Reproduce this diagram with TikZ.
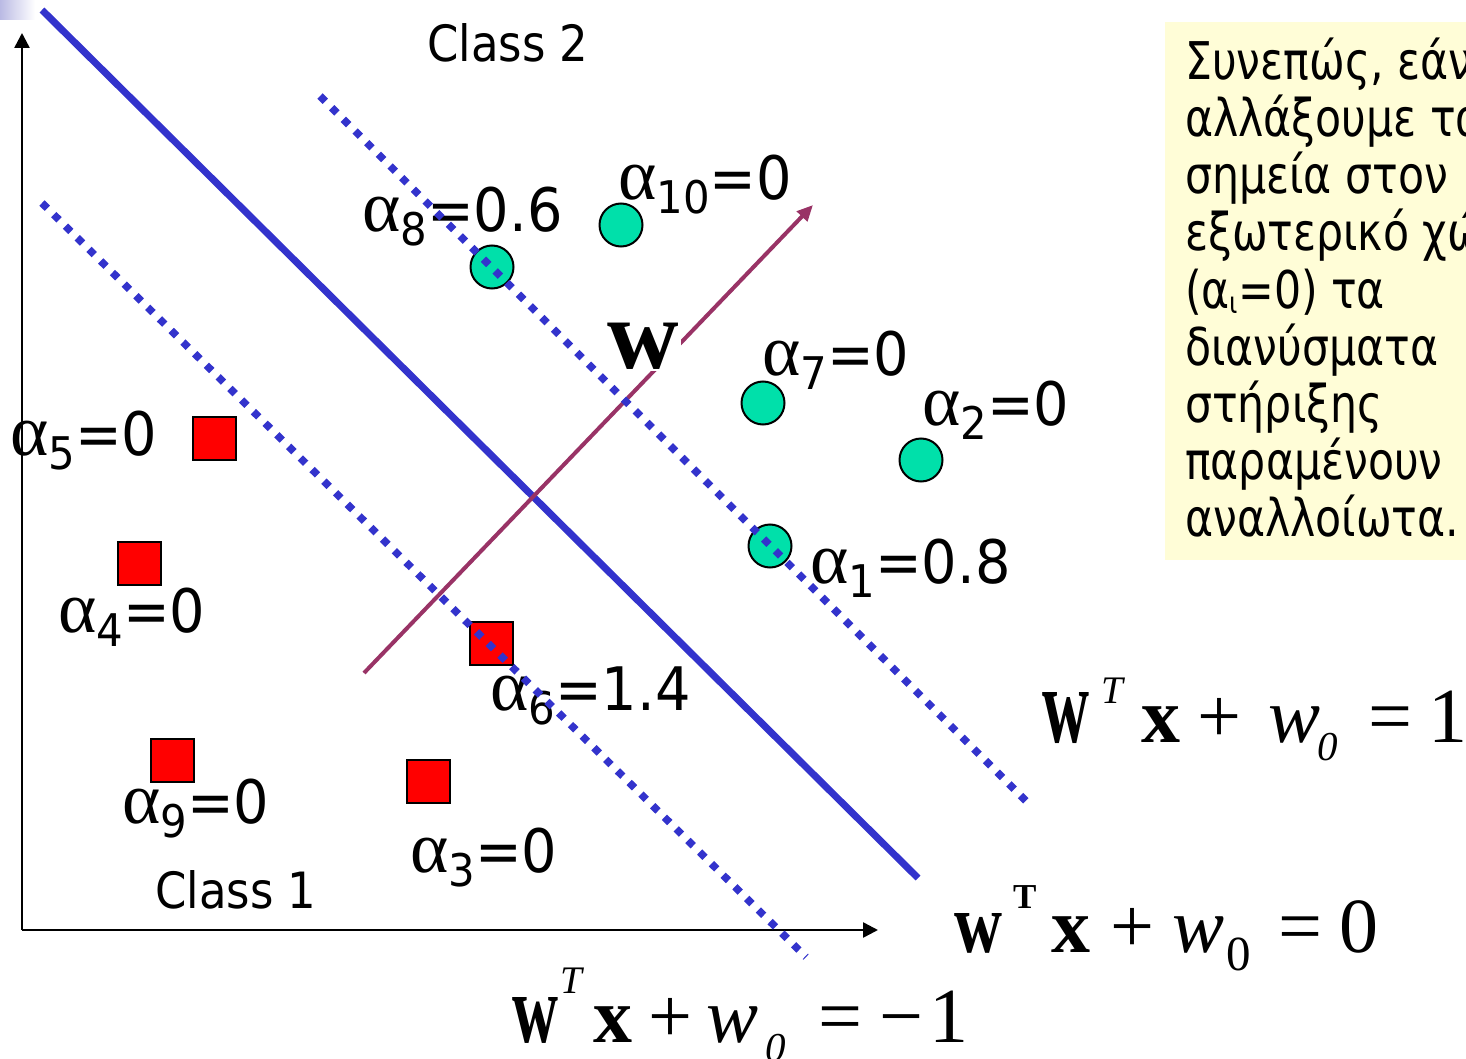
\documentclass[tikz,border=0pt]{standalone}
\usepackage{graphicx}
\usepackage{fontspec}
\setmainfont{DejaVu Sans}
\newfontfamily\tah{DejaVu Sans}[FakeStretch=0.9]
\newfontfamily\tlab{DejaVu Sans}[FakeStretch=0.93]
\newfontfamily\tbox{DejaVu Sans}[FakeStretch=0.82]
\newfontfamily\tms{Liberation Serif}
\usetikzlibrary{arrows.meta}
\definecolor{svmblue}{RGB}{51,51,204}
\definecolor{svmgreen}{RGB}{0,224,170}
\definecolor{svmpurple}{RGB}{153,51,102}
\definecolor{boxyellow}{RGB}{255,253,215}
\definecolor{lavender}{RGB}{186,186,228}
\newcommand\albl[2]{{\tms\fontsize{73}{73}\selectfont α}\raisebox{-14pt}{\tlab\fontsize{45}{45}\selectfont #1}{\tlab\fontsize{60}{60}\selectfont =#2}}
\tikzset{
  axisline/.style={line width=2.5pt, -{Triangle[length=15pt,width=15pt]}},
  sepline/.style={svmblue, line width=7pt},
  marginline/.style={svmblue, line width=7.5pt, dash pattern=on 7.5pt off 9pt},
  wvec/.style={svmpurple, line width=4pt, -{Triangle[length=16pt,width=14pt]}},
  ptgreen/.style={circle, draw=black, line width=2pt, fill=svmgreen, minimum size=43pt, inner sep=0},
  ptred/.style={rectangle, draw=black, line width=2pt, fill=red, minimum size=43pt, inner sep=0},
  lbl/.style={anchor=base west, inner sep=0},
  boxline/.style={anchor=base west, inner sep=0, font=\tbox\fontsize{52}{57}\selectfont},
  eqn/.style={anchor=base west, inner sep=0}
}
\begin{document}
\begin{tikzpicture}[x=1pt,y=-1pt]
\useasboundingbox (0,0) rectangle (1466,1059);
\clip (0,0) rectangle (1466,1059);
% corner gradient
\shade[left color=lavender, right color=white] (0,0) rectangle (35,20);
% text box background
\fill[boxyellow] (1165,22) rectangle (1470,560);
% axes
\coordinate (O) at (22,930);
\coordinate (ytop) at (22,33);
\coordinate (xend) at (878,930);
\draw[axisline] (O) -- (ytop);
\draw[axisline] (O) -- (xend);
% class 2 points
\node[ptgreen] (p8) at (492,267) {};
\node[ptgreen] (p10) at (621,225) {};
\node[ptgreen] (p7) at (763,403) {};
\node[ptgreen] (p2) at (921,460) {};
\node[ptgreen] (p1) at (770,546) {};
% class 1 points
\node[ptred] (p5) at (214,438) {};
\node[ptred] (p4) at (139,563) {};
\node[ptred] (p6) at (491,643) {};
\node[ptred] (p9) at (172,760) {};
\node[ptred] (p3) at (428,781) {};
% labels
\node[lbl] (l8) at (362,232) {\albl{8}{0.6}};
\node[lbl] (l10) at (618,200) {\albl{10}{0}};
\node[lbl] (l7) at (762,375) {\albl{7}{0}};
\node[lbl] (l2) at (922,425) {\albl{2}{0}};
\node[lbl] (l5) at (10,455) {\albl{5}{0}};
\node[lbl] (l4) at (58,632) {\albl{4}{0}};
\node[lbl] (l1) at (810,583) {\albl{1}{0.8}};
\node[lbl] (l6) at (490,710) {\albl{6}{1.4}};
\node[lbl] (l9) at (122,823) {\albl{9}{0}};
\node[lbl] (l3) at (410,872) {\albl{3}{0}};
\node[lbl, font=\tah\fontsize{50}{50}\selectfont] (c2) at (427,62) {Class 2};
\node[lbl, font=\tah\fontsize{50}{50}\selectfont] (c1) at (155,908) {Class 1};
% separating lines
\coordinate (s0a) at (42,10);
\coordinate (s0b) at (918,878);
\coordinate (s1a) at (320,96);
\coordinate (s1b) at (1028,803);
\coordinate (s2a) at (42,203);
\coordinate (s2b) at (806,957);
\draw[sepline] (s0a) -- (s0b);
% w vector
\coordinate (wa) at (364,673);
\coordinate (wb) at (813,205);
\draw[wvec] (wa) -- (wb);
\draw[marginline] (s1a) -- (s1b);
\draw[marginline] (s2a) -- (s2b);
\node[anchor=base west, inner sep=2pt, fill=white] (wl) at (605,368) {\tms\fontsize{99}{99}\selectfont\bfseries w};
% equations
\node[eqn] (eq1) at (1042,742) {\tms\fontsize{78}{80}\selectfont
\makebox[59pt][l]{\resizebox{47pt}{50pt}{\bfseries w}}%
\makebox[40pt][l]{\raisebox{39pt}{\fontsize{39}{40}\selectfont\itshape T}}%
\makebox[56pt][l]{\bfseries x}%
\makebox[71pt][l]{+}%
\makebox[49pt][l]{\itshape w}%
\makebox[51pt][l]{\raisebox{-18pt}{\fontsize{41}{41}\selectfont\itshape 0}}%
\makebox[60pt][l]{=}%
1};
\node[eqn] (eq2) at (954,952) {\tms\fontsize{78}{80}\selectfont
\makebox[59pt][l]{\resizebox{48pt}{39pt}{\bfseries w}}%
\makebox[38pt][l]{\raisebox{44pt}{\fontsize{35}{35}\selectfont\bfseries T}}%
\makebox[59pt][l]{\bfseries x}%
\makebox[62pt][l]{+}%
\makebox[54pt][l]{\itshape w}%
\makebox[52pt][l]{\raisebox{-18pt}{\fontsize{49}{49}\selectfont 0}}%
\makebox[61pt][l]{=}%
0};
\node[eqn] (eq3) at (512,1042) {\tms\fontsize{78}{80}\selectfont
\makebox[48pt][l]{\resizebox{46pt}{45pt}{\bfseries w}}%
\makebox[33pt][l]{\raisebox{49pt}{\fontsize{39}{40}\selectfont\itshape T}}%
\makebox[55pt][l]{\bfseries x}%
\makebox[58pt][l]{+}%
\makebox[59pt][l]{\itshape w}%
\makebox[53pt][l]{\raisebox{-19pt}{\fontsize{41}{41}\selectfont\itshape 0}}%
\makebox[61pt][l]{=}%
\makebox[50pt][l]{−}%
1};
% text box lines
\node[boxline] (t1) at (1185,80) {Συνεπώς, εάν};
\node[boxline] (t2) at (1185,137) {αλλάξουμε τα};
\node[boxline] (t3) at (1185,194) {σημεία στον};
\node[boxline] (t4) at (1185,251) {εξωτερικό χώ};
\node[boxline] (t5) at (1185,308) {(α\raisebox{-5pt}{\fontsize{30}{30}\selectfont ι}=0) τα};
\node[boxline] (t6) at (1185,365) {διανύσματα};
\node[boxline] (t7) at (1185,422) {στήριξης};
\node[boxline] (t8) at (1185,479) {παραμένουν};
\node[boxline] (t9) at (1185,536) {αναλλοίωτα.};
\end{tikzpicture}
\end{document}
